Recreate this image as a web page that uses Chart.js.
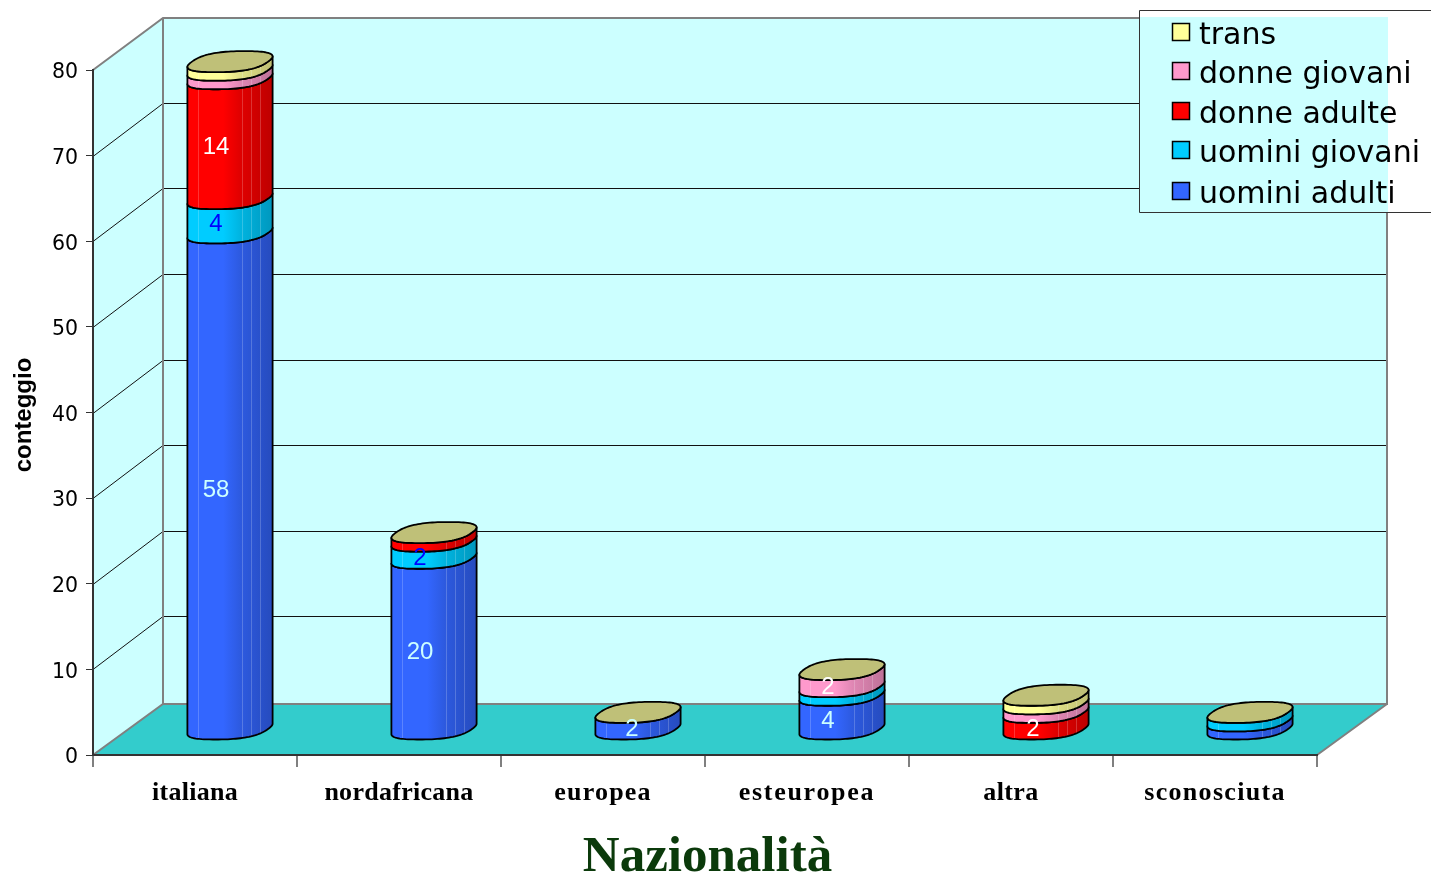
<!DOCTYPE html>
<html>
<head>
<meta charset="utf-8">
<style>html,body{margin:0;padding:0;background:#fff;overflow:hidden}canvas{display:block}</style>
<script src="https://cdn.jsdelivr.net/npm/chart.js@4"></script>
</head>
<body>
<canvas id="c" width="1431" height="877"></canvas>
<script>
const categories = ['italiana', 'nordafricana', 'europea', 'esteuropea', 'altra', 'sconosciuta'];
const uominiAdulti  = [58, 20, 2, 4, 0, 1];
const uominiGiovani = [4, 2, 0, 1, 0, 1];
const donneAdulte   = [14, 1, 0, 0, 2, 0];
const donneGiovani  = [1, 0, 0, 2, 1, 0];
const trans         = [1, 0, 0, 0, 1, 0];
const yTickStep = 10;
const yMax = 80;

const DX = 70, DY = 51;           // depth of the 3D box
const CAP = '#bfc078';
const LEGEND = {x: 1139, y: 10, b: 212};
const LABEL_SPACING = [0.25, 0.28, 1.2, 1.7, 0.4, 1.3];
const LABEL_SHIFT = [0, 0, 8, 0, 1, 0];

function shade(hex, f) {
  const n = parseInt(hex.slice(1), 16);
  const r = Math.round((n >> 16 & 255) * f), g = Math.round((n >> 8 & 255) * f), b = Math.round((n & 255) * f);
  return `rgb(${r},${g},${b})`;
}
function sp(v) { return Math.sign(v) * Math.pow(Math.abs(v), 0.78); }
function rim(cx, cy, t) {
  // rounded disc lying on the floor, seen through the oblique projection
  const c = sp(Math.cos(t)), s = sp(Math.sin(t));
  return [cx + 38 * c + 14.5 * s, cy - 10.5 * s];
}
const T0 = (() => {              // angle of the right-hand silhouette point
  let best = 0, bx = -1e9;
  for (let i = 0; i < 720; i++) {
    const t = i / 720 * Math.PI * 2, x = rim(0, 0, t)[0];
    if (x > bx) { bx = x; best = t; }
  }
  return best;
})();

function capPath(ctx, cx, cy) {
  ctx.beginPath();
  for (let i = 0; i <= 96; i++) {
    const p = rim(cx, cy, i / 96 * Math.PI * 2);
    if (i) ctx.lineTo(p[0], p[1]); else ctx.moveTo(p[0], p[1]);
  }
  ctx.closePath();
}
function segment(ctx, cx, top, bottom, color) {
  const g = ctx.createLinearGradient(cx - 43, 0, cx + 43, 0);
  g.addColorStop(0, color);
  g.addColorStop(0.42, color);
  g.addColorStop(0.62, shade(color, 0.88));
  g.addColorStop(1, shade(color, 0.74));
  const path = new Path2D();
  const N = 48;
  for (let i = 0; i <= N; i++) {           // front of the lower rim, left to right
    const p = rim(cx, bottom, T0 - Math.PI + i / N * Math.PI);
    if (i) path.lineTo(p[0], p[1]); else path.moveTo(p[0], p[1]);
  }
  for (let i = N; i >= 0; i--) {           // front of the upper rim, right to left
    const p = rim(cx, top, T0 - Math.PI + i / N * Math.PI);
    path.lineTo(p[0], p[1]);
  }
  path.closePath();
  ctx.fillStyle = g;
  ctx.fill(path);
  ctx.save();
  ctx.clip(path);
  ctx.strokeStyle = 'rgba(255,255,255,0.2)';
  ctx.lineWidth = 1;
  [-32, 12, 21, 30].forEach(o => {
    ctx.beginPath();
    ctx.moveTo(cx + o + .5, top - 20);
    ctx.lineTo(cx + o + .5, bottom + 20);
    ctx.stroke();
  });
  ctx.restore();
  ctx.strokeStyle = '#000';
  ctx.lineWidth = 1.8;
  ctx.lineJoin = 'round';
  ctx.stroke(path);
}
function nudgeTitle(scale, dx, dy) {
  if (scale._nudged) return;
  scale._nudged = true;
  const orig = scale.drawTitle;
  scale.drawTitle = function () {
    const ctx = this.ctx;
    ctx.save();
    ctx.translate(dx, dy);
    orig.call(this);
    ctx.restore();
  };
}
function spaceLabels(scale) {
  if (scale._spaced) return;
  scale._spaced = true;
  const orig = scale.drawLabels;
  scale.drawLabels = function (area) {
    const ctx = this.ctx, ft = ctx.fillText;
    ctx.fillText = function (t, x, y, w) {
      ctx.letterSpacing = (LABEL_SPACING[categories.indexOf(t)] || 0) + 'px';
      return w === undefined ? ft.call(ctx, t, x, y) : ft.call(ctx, t, x, y, w);
    };
    orig.call(this, area);
    delete ctx.fillText;
    ctx.letterSpacing = '0px';
  };
}

const box3d = {
  id: 'box3d',
  beforeDraw(chart) {
    const ctx = chart.ctx, x = chart.scales.x, y = chart.scales.y;
    nudgeTitle(x, 2.5, 11);
    nudgeTitle(y, 0, 2.5);
    spaceLabels(x);
    const L = x.left, R = x.right, B = y.getPixelForValue(0), T = y.getPixelForValue(yMax);
    const TB = 18;
    ctx.save();
    ctx.fillStyle = '#ccffff';
    ctx.beginPath();
    ctx.moveTo(L, B); ctx.lineTo(L, T); ctx.lineTo(L + DX, TB); ctx.lineTo(R + DX, TB);
    ctx.lineTo(R + DX, B - DY); ctx.lineTo(L + DX, B - DY); ctx.closePath();
    ctx.fill();
    ctx.fillStyle = '#33cccc';
    ctx.beginPath();
    ctx.moveTo(L, B); ctx.lineTo(L + DX, B - DY); ctx.lineTo(R + DX, B - DY); ctx.lineTo(R, B); ctx.closePath();
    ctx.fill();
    // grid lines on the side and back walls
    ctx.strokeStyle = '#111';
    ctx.lineWidth = 1;
    y.ticks.forEach(t => {
      if (t.value === 0 || t.value === yMax) return;
      const p = Math.round(y.getPixelForValue(t.value));
      ctx.beginPath();
      ctx.moveTo(L, p + .5); ctx.lineTo(L + DX, p - 53 + .5);
      ctx.lineTo(R + DX, p - 53 + .5);
      ctx.stroke();
    });
    ctx.strokeStyle = '#808080';
    ctx.lineWidth = 2;
    ctx.beginPath();
    ctx.moveTo(L, T); ctx.lineTo(L + DX, TB); ctx.lineTo(R + DX, TB); ctx.lineTo(R + DX, B - DY);
    ctx.lineTo(L + DX, B - DY); ctx.lineTo(L, B);
    ctx.moveTo(L + DX, TB); ctx.lineTo(L + DX, B - DY);
    ctx.moveTo(R + DX, B - DY); ctx.lineTo(R, B);
    ctx.stroke();
    ctx.restore();
  },
  beforeDatasetDraw() { return false; },
  afterDatasetsDraw(chart) {
    const ctx = chart.ctx;
    const metas = chart.data.datasets.map((d, i) => chart.getDatasetMeta(i));
    ctx.save();
    categories.forEach((c, ci) => {
      let last = null;
      metas.forEach((m, di) => {
        const v = chart.data.datasets[di].data[ci];
        if (!v) return;
        const el = m.data[ci];
        segment(ctx, el.x + DX / 2, el.y - DY / 2, el.base - DY / 2, chart.data.datasets[di].backgroundColor);
        last = el;
      });
      if (last) {
        capPath(ctx, last.x + DX / 2, last.y - DY / 2);
        ctx.fillStyle = CAP;
        ctx.fill();
        ctx.strokeStyle = '#000';
        ctx.lineWidth = 1.8;
        ctx.stroke();
      }
    });
    ctx.restore();
  },
  afterDraw(chart) {
    const ctx = chart.ctx;
    ctx.save();
    // value labels
    ctx.font = '24px "Liberation Sans"';
    ctx.textAlign = 'center';
    ctx.textBaseline = 'middle';
    chart.data.datasets.forEach((d, di) => {
      const m = chart.getDatasetMeta(di);
      d.data.forEach((v, ci) => {
        if (v < 2) return;
        const el = m.data[ci];
        ctx.fillStyle = d.labelColor;
        ctx.fillText(String(v), el.x + 21 + LABEL_SHIFT[ci], (el.y + el.base) / 2 - DY / 2 + 9);
      });
    });
    // legend
    const wallR = chart.scales.x.right + DX;
    ctx.fillStyle = '#fff';
    ctx.fillRect(LEGEND.x, LEGEND.y, 1431 - LEGEND.x, LEGEND.b - LEGEND.y);
    ctx.fillStyle = '#ccffff';
    ctx.fillRect(LEGEND.x, 17, wallR + 1 - LEGEND.x, LEGEND.b - 17);
    ctx.strokeStyle = '#333';
    ctx.lineWidth = 1;
    ctx.beginPath();
    ctx.moveTo(1431, LEGEND.y + .5); ctx.lineTo(LEGEND.x + .5, LEGEND.y + .5);
    ctx.lineTo(LEGEND.x + .5, LEGEND.b + .5); ctx.lineTo(1431, LEGEND.b + .5);
    ctx.stroke();
    ctx.font = '30px "DejaVu Sans"';
    ctx.textAlign = 'left';
    const rows = [33, 72, 112, 151, 192];
    chart.data.datasets.slice().reverse().forEach((d, i) => {
      ctx.fillStyle = d.backgroundColor;
      ctx.fillRect(1172.5, rows[i] - 9.5, 17, 17);
      ctx.strokeStyle = '#000';
      ctx.lineWidth = 1.5;
      ctx.strokeRect(1172.5, rows[i] - 9.5, 17, 17);
      ctx.fillStyle = '#000';
      ctx.fillText(d.label, 1199, rows[i] + 3);
    });
    ctx.restore();
  }
};

new Chart(document.getElementById('c'), {
  type: 'bar',
  plugins: [box3d],
  data: {
    labels: categories,
    datasets: [
      {label: 'uomini adulti',  data: uominiAdulti,  backgroundColor: '#3366ff', labelColor: '#ccffff'},
      {label: 'uomini giovani', data: uominiGiovani, backgroundColor: '#00ccff', labelColor: '#0000ff'},
      {label: 'donne adulte',   data: donneAdulte,   backgroundColor: '#ff0000', labelColor: '#ffffff'},
      {label: 'donne giovani',  data: donneGiovani,  backgroundColor: '#ff99cc', labelColor: '#ffffff'},
      {label: 'trans',          data: trans,         backgroundColor: '#ffff99', labelColor: '#000000'}
    ]
  },
  options: {
    responsive: false,
    animation: false,
    events: [],
    barPercentage: 86 / 204,
    categoryPercentage: 1,
    layout: {autoPadding: false, padding: {left: 0, right: 114, top: 70, bottom: 0}},
    plugins: {legend: {display: false}, title: {display: false}, tooltip: {enabled: false}},
    scales: {
      x: {
        stacked: true,
        afterFit(s) { s.height = 122; },
        border: {color: '#333', width: 2},
        grid: {drawOnChartArea: false, color: '#808080', tickLength: 12, lineWidth: 2},
        ticks: {color: '#000', font: {family: '"Liberation Serif"', size: 26, weight: 'bold'}, padding: 11, maxRotation: 0, autoSkip: false},
        title: {display: true, text: 'Nazionalità', color: '#0b3a0b', font: {family: '"Liberation Serif"', size: 51, weight: 'bold'}, padding: {top: 0, bottom: 0}}
      },
      y: {
        stacked: true,
        min: 0, max: yMax,
        afterFit(s) { s.width = 93; },
        border: {color: '#333', width: 2},
        grid: {drawOnChartArea: false, color: '#333', tickLength: 7, lineWidth: 1},
        ticks: {stepSize: yTickStep, color: '#000', font: {family: '"DejaVu Sans"', size: 20.5}, padding: 8, labelOffset: 3},
        title: {display: true, text: 'conteggio', color: '#000', font: {family: '"Liberation Sans"', size: 24, weight: 'bold'}, padding: {top: 10, bottom: 0}}
      }
    }
  }
});
</script>
</body>
</html>
